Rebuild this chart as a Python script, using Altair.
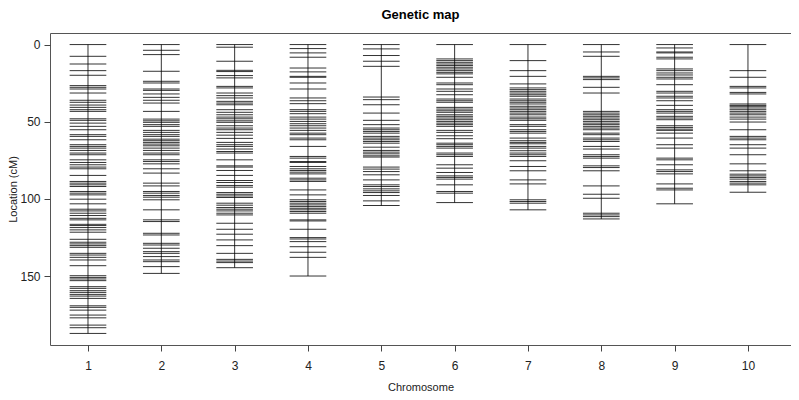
import altair as alt
import pandas as pd

chr1 = [0, 7.6, 12.6, 16.9, 19.9, 26.6, 27.7, 28.8, 31.4, 36.1, 37.4, 39.2, 40.7, 42.2, 43.3,
        48.1, 49.1, 50.9, 53.0, 55.2, 58.4, 59.5, 61.7, 64.9, 66.0, 67.1, 68.6, 70.3, 71.4,
        74.7, 76.4, 77.9, 79.4, 80.5, 84.8, 88.7, 89.8, 90.9, 92.0, 95.2, 96.3, 97.4, 100.2,
        103.2, 106.7, 107.8, 109.3, 110.8, 112.6, 113.6, 116.5, 117.3, 118.6, 120.1, 121.6,
        126.2, 128.1, 129.2, 130.3, 131.4, 135.3, 136.4, 137.9, 139.6, 143.3, 149.8, 150.9,
        151.9, 153.0, 156.9, 158.0, 159.5, 160.6, 161.9, 163.0, 164.5, 169.3, 170.3, 172.1,
        175.3, 177.1, 181.8, 183.5, 187.2]
chr2 = [0, 3.7, 6.5, 17.3, 23.8, 24.9, 28.8, 29.7, 32.0, 34.2, 36.1, 37.9, 43.3, 48.3, 49.4,
        50.4, 51.9, 53.0, 55.6, 56.9, 58.4, 59.5, 61.3, 62.3, 63.4, 64.5, 65.6, 67.1, 68.6,
        70.3, 71.4, 74.7, 75.8, 77.3, 80.5, 83.3, 89.8, 91.6, 95.2, 96.3, 97.8, 98.9, 100.6,
        107.1, 113.6, 114.7, 122.3, 123.4, 128.8, 129.9, 132.0, 134.2, 135.3, 137.4, 139.6,
        140.7, 143.9, 148.3]
chr3 = [0, 1.7, 10.8, 16.7, 17.5, 20.1, 21.6, 27.1, 28.1, 31.4, 33.1, 34.6, 36.8, 37.9, 39.0,
        42.2, 43.9, 45.5, 47.0, 48.1, 49.4, 50.4, 52.6, 54.1, 55.2, 56.9, 58.7, 60.8, 63.4,
        64.9, 66.0, 67.7, 69.3, 70.3, 74.7, 78.6, 79.4, 81.6, 84.8, 88.1, 89.4, 91.3, 92.4,
        95.9, 97.0, 98.1, 99.1, 102.8, 104.1, 105.6, 106.7, 107.8, 109.3, 110.4, 115.8, 119.7,
        122.9, 126.6, 130.3, 135.3, 139.2, 140.3, 141.3, 144.6]
chr4 = [0, 2.6, 5.4, 8.2, 15.2, 17.7, 20.6, 21.2, 24.9, 28.8, 34.6, 36.4, 38.3, 42.2, 43.3,
        44.8, 47.0, 48.3, 49.8, 51.3, 52.6, 54.1, 55.6, 57.4, 58.4, 60.6, 61.7, 66.0, 72.5,
        73.6, 75.8, 76.4, 79.0, 80.5, 81.6, 82.7, 83.8, 86.6, 87.7, 88.7, 94.2, 97.4, 100.6,
        101.7, 102.8, 103.9, 105.0, 106.1, 107.1, 108.2, 109.3, 113.6, 114.3, 119.7, 125.1,
        126.0, 127.7, 131.0, 134.6, 137.9, 150.0]
chr5 = [0, 2.8, 7.1, 10.8, 14.1, 34.0, 35.7, 39.0, 44.4, 49.1, 51.9, 54.1, 55.2, 56.3, 57.4,
        59.5, 60.6, 61.7, 62.8, 63.9, 66.5, 68.6, 69.7, 70.8, 72.1, 72.9, 79.4, 80.7, 82.3,
        84.4, 87.7, 90.9, 92.0, 93.5, 94.8, 95.9, 97.8, 101.3, 104.3]
chr6 = [0, 9.3, 10.4, 11.5, 12.6, 13.6, 14.7, 15.8, 16.9, 18.0, 19.0, 21.2, 24.9, 26.0, 28.8,
        30.3, 32.5, 35.3, 36.4, 37.4, 40.7, 41.8, 42.9, 43.9, 45.5, 46.5, 47.6, 48.7, 49.8,
        50.9, 51.9, 53.0, 55.6, 56.9, 59.1, 61.0, 63.9, 64.9, 66.0, 67.1, 70.3, 71.4, 72.5,
        77.9, 80.1, 82.9, 85.1, 86.1, 87.2, 90.9, 95.2, 96.3, 102.4]
chr7 = [0, 10.4, 16.9, 20.6, 25.5, 28.1, 29.2, 30.3, 31.4, 32.5, 33.5, 35.3, 36.4, 37.4, 38.5,
        40.0, 41.1, 42.2, 43.3, 44.4, 45.5, 47.0, 48.1, 49.1, 51.9, 53.0, 55.2, 56.3, 57.4,
        60.6, 62.3, 63.4, 64.3, 66.0, 67.1, 68.8, 70.3, 71.4, 72.5, 75.3, 79.0, 81.8, 87.7,
        90.3, 100.6, 101.7, 102.8, 107.1]
chr8 = [0, 4.8, 7.6, 20.6, 21.6, 22.7, 27.7, 31.4, 43.3, 44.4, 45.5, 46.5, 47.6, 48.7, 49.8,
        50.9, 51.9, 53.0, 54.1, 55.2, 57.4, 58.4, 60.6, 61.7, 62.8, 66.0, 67.7, 71.4, 72.5,
        73.6, 78.6, 79.7, 81.8, 91.6, 97.0, 99.6, 109.3, 110.4, 111.5, 113.0]
chr9 = [0, 2.2, 4.8, 5.4, 8.2, 9.3, 15.8, 16.9, 18.4, 19.7, 21.2, 22.3, 26.0, 30.3, 31.4,
        33.5, 34.6, 36.4, 39.4, 42.2, 43.3, 44.4, 46.5, 47.6, 48.7, 52.6, 53.7, 54.8, 55.6,
        57.4, 60.6, 64.9, 67.1, 73.6, 74.7, 77.9, 81.2, 82.3, 83.8, 90.3, 93.1, 94.2, 103.2]
chr10 = [0, 16.9, 21.2, 27.1, 28.1, 31.0, 32.0, 38.5, 39.4, 40.0, 41.1, 42.2, 43.3, 44.4,
         45.5, 47.0, 48.3, 50.2, 55.2, 59.5, 60.6, 61.7, 64.9, 67.1, 71.4, 77.3, 81.8, 84.0,
         85.1, 86.1, 87.2, 88.7, 89.8, 90.9, 95.7]

chromosomes = [1, 2, 3, 4, 5, 6, 7, 8, 9, 10]
all_pos = [chr1, chr2, chr3, chr4, chr5, chr6, chr7, chr8, chr9, chr10]

rows = []
for c, plist in zip(chromosomes, all_pos):
    for p in plist:
        rows.append({"chr": c, "pos": p})
markers = pd.DataFrame(rows)
spans = pd.DataFrame({"chr": chromosomes,
                      "start": [min(p) for p in all_pos],
                      "end": [max(p) for p in all_pos]})

xscale = alt.Scale(domain=[0.482, 10.587], nice=False, zero=False)
yscale = alt.Scale(domain=[-7.5, 194.7], nice=False, zero=False, reverse=True)

xaxis = alt.Axis(values=chromosomes, format="d", title="Chromosome", grid=False,
                 tickSize=6, labelPadding=9, titlePadding=10,
                 labelFontSize=12, titleFontSize=11, titleFontWeight="normal",
                 labelColor="#222", titleColor="#222", domain=False,
                 tickColor="#444", labelFont="Liberation Sans", titleFont="Liberation Sans")
yaxis = alt.Axis(values=[0, 50, 100, 150], title="Location (cM)", grid=False,
                 tickSize=6, labelPadding=4, titlePadding=1,
                 labelFontSize=12, titleFontSize=11, titleFontWeight="normal",
                 labelColor="#222", titleColor="#222", domain=False,
                 tickColor="#444", labelFont="Liberation Sans", titleFont="Liberation Sans")

ticks = alt.Chart(markers).transform_calculate(
    x1="datum.chr - 0.25", x2="datum.chr + 0.25"
).mark_rule(color="black", strokeWidth=1, opacity=0.8).encode(
    x=alt.X("x1:Q", scale=xscale, axis=xaxis),
    x2="x2:Q",
    y=alt.Y("pos:Q", scale=yscale, axis=yaxis),
)

vert = alt.Chart(spans).mark_rule(color="black", strokeWidth=1, opacity=0.8).encode(
    x=alt.X("chr:Q", scale=xscale),
    y=alt.Y("start:Q", scale=yscale),
    y2="end:Q",
)

chart = alt.layer(vert, ticks).properties(
    width=741, height=312,
    title=alt.TitleParams("Genetic map", fontSize=13, fontWeight="bold",
                          font="Liberation Sans", anchor="middle", offset=11, color="black"),
    autosize=alt.AutoSizeParams(type="none"),
    padding={"left": 42, "top": 25, "right": 0, "bottom": 53},
).configure_view(stroke="#555", strokeWidth=1)

chart.save("out.html", embed_options={"renderer": "svg", "actions": False})
